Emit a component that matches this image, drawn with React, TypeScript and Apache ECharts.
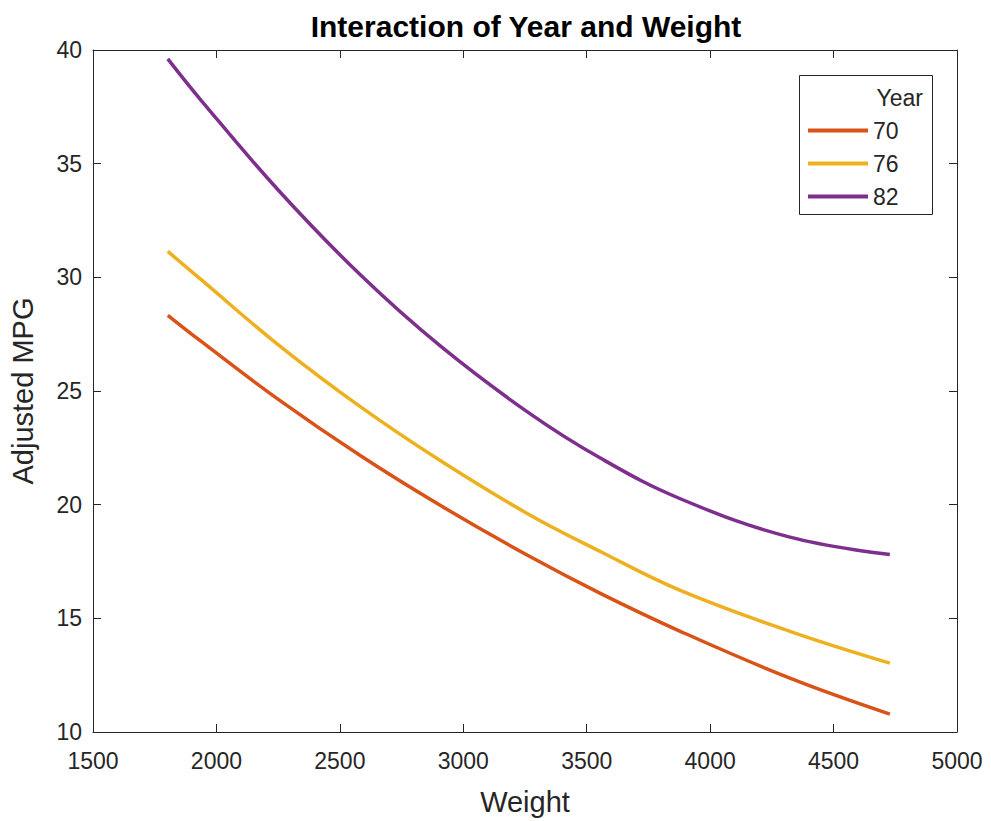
import React, { useEffect, useRef } from "react";
import * as echarts from "echarts";

const weights = [1803, 1937, 2252, 2584, 2908, 3264, 3555, 3879, 4323, 4728];
const mpg70 = [28.33, 27.19, 24.62, 22.15, 19.96, 17.75, 16.1, 14.43, 12.37, 10.79];
const mpg76 = [31.14, 29.91, 27.02, 24.3, 21.93, 19.58, 17.94, 16.23, 14.43, 13.03];
const mpg82 = [39.61, 37.8, 33.82, 30.1, 26.97, 24.05, 22.05, 20.26, 18.57, 17.81];
const years = ["70", "76", "82"];
const colors = ["#D95319", "#EDB120", "#7E2F8E"];

const FONT = "Liberation Sans, Arial, Helvetica, sans-serif";
const AX = "#262626";

export default function App() {
  const ref = useRef<HTMLDivElement>(null);
  useEffect(() => {
    document.body.style.margin = "0";
    const chart = echarts.init(ref.current!, null, { renderer: "svg" });
    const seriesData = [mpg70, mpg76, mpg82];
    const axisCommon = {
      axisLine: { show: true, lineStyle: { color: AX, width: 1 } },
      axisTick: { show: true, inside: true, length: 8, lineStyle: { color: AX, width: 1 } },
      splitLine: { show: false },
    };
    chart.setOption({
      animation: false,
      backgroundColor: "#fff",
      textStyle: { fontFamily: FONT },
      title: {
        text: "Interaction of Year and Weight",
        left: 521,
        top: 6,
        textAlign: "center",
        textStyle: { fontFamily: FONT, fontSize: 30, fontWeight: "bold", color: "#000" },
      },
      grid: { left: 92, top: 50, right: 34, bottom: 87 },
      xAxis: [
        {
          ...axisCommon,
          type: "value",
          position: "bottom",
          min: 1500,
          max: 5000,
          interval: 500,
          name: "Weight",
          nameLocation: "middle",
          nameGap: 55,
          nameTextStyle: { fontFamily: FONT, fontSize: 29, color: AX },
          axisLabel: { fontFamily: FONT, fontSize: 23, color: AX, margin: 17, formatter: (v: number) => String(v) },
        },
        {
          ...axisCommon,
          type: "value",
          position: "top",
          min: 1500,
          max: 5000,
          interval: 500,
          axisLabel: { show: false },
        },
      ],
      yAxis: [
        {
          ...axisCommon,
          type: "value",
          position: "left",
          min: 10,
          max: 40,
          interval: 5,
          name: "Adjusted MPG",
          nameLocation: "middle",
          nameGap: 56,
          nameTextStyle: { fontFamily: FONT, fontSize: 29, color: AX },
          axisLabel: { fontFamily: FONT, fontSize: 23, color: AX, margin: 11 },
        },
        {
          ...axisCommon,
          type: "value",
          position: "right",
          min: 10,
          max: 40,
          interval: 5,
          axisLabel: { show: false },
        },
      ],
      legend: {
        orient: "vertical",
        left: 808,
        top: 119,
        padding: 0,
        itemWidth: 60,
        itemHeight: 4,
        itemGap: 10,
        icon: "rect",
        data: years,
        textStyle: { fontFamily: FONT, fontSize: 23, color: AX, lineHeight: 23 },
      },
      graphic: [
        {
          type: "rect",
          shape: { x: 799.5, y: 75.5, width: 133, height: 139 },
          style: { fill: "#fff", stroke: AX, lineWidth: 1 },
          z: 3,
        },
        {
          type: "text",
          x: 923,
          y: 98,
          style: {
            text: "Year",
            font: `23px ${FONT}`,
            fill: AX,
            textAlign: "right",
            textVerticalAlign: "middle",
          },
          z: 5,
        },
      ],
      series: years.map((y, i) => ({
        name: y,
        type: "line",
        data: weights.map((w, j) => [w, seriesData[i][j]]),
        smooth: 0.4,
        symbol: "none",
        color: colors[i],
        lineStyle: { color: colors[i], width: 3.5 },
        itemStyle: { color: colors[i] },
      })),
    });
    return () => chart.dispose();
  }, []);
  return <div ref={ref} style={{ width: 991, height: 821 }} />;
}
